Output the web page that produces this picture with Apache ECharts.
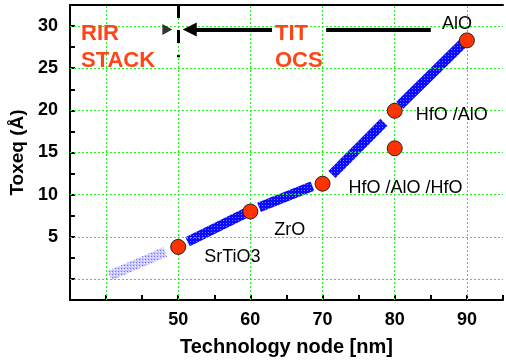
<!DOCTYPE html>
<html>
<head>
<meta charset="utf-8">
<script src="https://cdn.jsdelivr.net/npm/echarts@6/dist/echarts.min.js"></script>
<style>
  html, body { margin: 0; padding: 0; background: #fff; }
  #main { width: 506px; height: 362px; }
</style>
</head>
<body>
<div id="main"></div>
<script>
// measured points (technology node, Toxeq)
var nodes = [50, 60, 70, 80, 80, 90];
var toxeq = [3.8, 8.0, 11.3, 19.95, 15.5, 28.3];
var materials = ["SrTiO3", "ZrO", "HfO /AlO /HfO", "HfO /AlO", "", "AlO"];
// label offsets (px) next to each point
var labelOffsets = [[18, 10], [16, 19], [18, 4], [13, 4], [0, 0], [-10, 1]];

// thick trend bands, each [start, end] in data units
var bands = [
  [[51.3, 4.4], [59.3, 7.8]],
  [[61.2, 8.5], [68.6, 11.0]],
  [[71.3, 12.4], [78.5, 18.6]],
  [[80.7, 20.6], [89.5, 28.0]]
];
var faintBand = [[40.5, 0.4], [48.2, 3.2]];

var xTicks = [40, 50, 60, 70, 80, 90];
var yTicks = [0, 5, 10, 15, 20, 25, 30];

// annotation marks (data units)
var stackLine = [[50, 32.5], [50, 26.3]];
var arrowShaft = [[63.0, 29.6], [51.6, 29.6]];
var arrowTail = [[70.5, 29.6], [85.0, 29.6]];
var leftHead = [[48.5, 29.6]];

function makePattern(bg, dot, light) {
  var c = document.createElement("canvas");
  c.width = 3; c.height = 3;
  var ctx = c.getContext("2d");
  ctx.fillStyle = bg;
  ctx.fillRect(0, 0, 3, 3);
  ctx.fillStyle = dot;
  ctx.fillRect(1, 1, 1, 1);
  if (light) {
    ctx.fillStyle = light;
    ctx.fillRect(0, 2, 1, 1);
  }
  return { image: c, repeat: "repeat" };
}

var bandPattern = makePattern("#0c0cff", "#7a7aff");
var faintPattern = makePattern("#c8c8ff", "#6e6eff", "#ffffff");

var chart = echarts.init(document.getElementById("main"));

var green = { color: "#22ee22", type: [2, 2], width: 1 };

var series = [];

// grid lines drawn by markLine
series.push({
  type: "line",
  data: [],
  silent: true,
  markLine: {
    silent: true,
    symbol: "none",
    label: { show: false },
    lineStyle: green,
    data: xTicks.map(function (v) { return { xAxis: v }; })
      .concat(yTicks.map(function (v) { return { yAxis: v }; }))
  },
  z: 1
});

// faint extension band
series.push({
  type: "line",
  data: faintBand,
  symbol: "none",
  lineStyle: { width: 10, color: faintPattern, cap: "butt" },
  z: 2
});

bands.forEach(function (b) {
  series.push({
    type: "line",
    data: b,
    symbol: "none",
    lineStyle: { width: 10, color: bandPattern, cap: "butt" },
    z: 3
  });
});

// arrows and dashed border between stacks
series.push({
  type: "line",
  data: [],
  silent: true,
  markLine: {
    silent: true,
    label: { show: false },
    symbol: "none",
    data: [
      [{ coord: stackLine[0], lineStyle: { color: "#000", width: 3, type: [13, 12] } },
       { coord: stackLine[1] }],
      [{ coord: arrowShaft[0], symbol: "none", lineStyle: { color: "#000", width: 4, type: "solid" } },
       { coord: arrowShaft[1], symbol: "triangle", symbolSize: 14 }],
      [{ coord: arrowTail[0], lineStyle: { color: "#000", width: 4, type: "solid" } },
       { coord: arrowTail[1] }]
    ]
  },
  z: 4
});

series.push({
  type: "scatter",
  data: leftHead,
  symbol: "triangle",
  symbolRotate: -90,
  symbolSize: [11, 10],
  itemStyle: { color: "#000" },
  z: 5
});

series.push({
  type: "scatter",
  data: nodes.map(function (x, i) {
    return {
      value: [x, toxeq[i]],
      label: {
        show: materials[i] !== "",
        formatter: materials[i],
        position: i === 5 ? "top" : "right",
        distance: 0,
        offset: labelOffsets[i],
        color: "#000"
      }
    };
  }),
  symbol: "circle",
  symbolSize: 15,
  itemStyle: { color: "#ff3300", borderColor: "#222", borderWidth: 1, opacity: 1 },
  label: {
    color: "#000",
    fontFamily: "Liberation Sans, Arial, sans-serif",
    fontSize: 18
  },
  z: 6
});

var tickFont = {
  fontFamily: "Liberation Sans, Arial, sans-serif",
  fontWeight: "bold",
  fontSize: 18,
  color: "#000"
};

chart.setOption({
  animation: false,
  grid: { left: 69, right: 0, top: 5, bottom: 61 },
  xAxis: [
    {
      type: "value",
      min: 35,
      max: 95,
      interval: 5,
      name: "Technology node [nm]",
      nameLocation: "middle",
      nameGap: 37,
      nameTextStyle: {
        fontFamily: "Liberation Sans, Arial, sans-serif",
        fontWeight: "bold",
        fontSize: 20,
        color: "#000"
      },
      axisLine: { onZero: false, lineStyle: { color: "#000", width: 2 } },
      axisTick: { inside: true, length: 5, lineStyle: { color: "#000", width: 2 } },
      splitLine: { show: false },
      axisLabel: Object.assign({
        margin: 11,
        formatter: function (v) {
          return (v >= 50 && v <= 90 && v % 10 === 0) ? v : "";
        }
      }, tickFont)
    },
    {
      type: "value",
      position: "top",
      min: 35,
      max: 95,
      axisLine: { show: true, onZero: false, lineStyle: { color: "#000", width: 2 } },
      axisTick: { show: false },
      axisLabel: { show: false },
      splitLine: { show: false }
    }
  ],
  yAxis: {
    type: "value",
    min: -2.5,
    max: 32.5,
    interval: 2.5,
    name: "Toxeq (Å)",
    nameLocation: "middle",
    nameGap: 41,
    nameTextStyle: {
      fontFamily: "Liberation Sans, Arial, sans-serif",
      fontWeight: "bold",
      fontSize: 19,
      color: "#000"
    },
    axisLine: { onZero: false, lineStyle: { color: "#000", width: 2 } },
    axisTick: { inside: true, length: 5, lineStyle: { color: "#000", width: 2 } },
    splitLine: { show: false },
    axisLabel: Object.assign({
      margin: 12,
      formatter: function (v) {
        return (v > 0 && v % 5 === 0) ? v : "";
      }
    }, tickFont)
  },
  graphic: [
    {
      type: "text",
      left: 81,
      top: 20,
      style: {
        text: "RIR\nSTACK",
        fill: "#ff4418",
        font: "bold 22px Liberation Sans, Arial, sans-serif",
        lineHeight: 27
      },
      z: 10
    },
    {
      type: "text",
      left: 275,
      top: 20,
      style: {
        text: "TIT\nOCS",
        fill: "#ff4418",
        font: "bold 22px Liberation Sans, Arial, sans-serif",
        lineHeight: 27
      },
      z: 10
    }
  ],
  series: series
});
</script>
</body>
</html>
